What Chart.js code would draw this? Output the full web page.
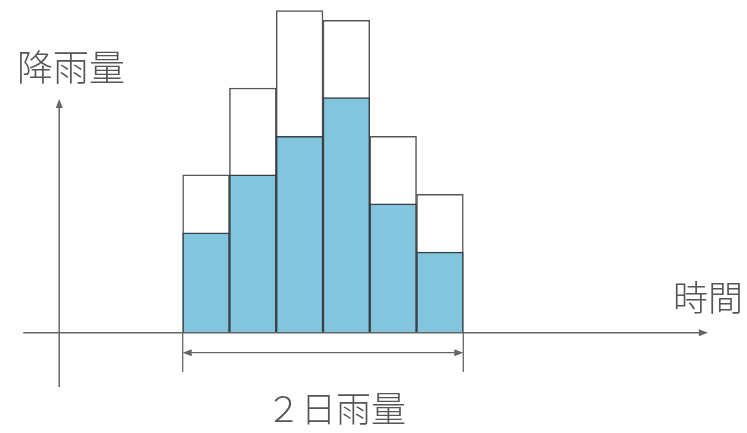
<!DOCTYPE html>
<html lang="ja">
<head>
<meta charset="UTF-8">
<title>2日雨量</title>
<script src="https://cdn.jsdelivr.net/npm/chart.js"></script>
<style>
  html, body { margin: 0; padding: 0; background: #fff; overflow: hidden; }
  #wrap { width: 747px; height: 433px; }
</style>
</head>
<body>
<div id="wrap"><canvas id="rainChart"></canvas></div>
<script>
// bar centres along the time axis
const periods = [1, 2, 3, 4, 5, 6];
// total rainfall per period (white outlined bars)
const totalRain = [49, 76, 100, 97, 61, 43];
// blue part of each period
const blueRain = [31, 49, 61, 73, 40, 25];

const yTitle = '降雨量';
const xTitle = '時間';
const spanTitle = '２日雨量';

const lineColor = '#666';
const textColor = '#555';
const font = '"Noto Sans CJK JP", "Noto Sans", sans-serif';

function arrowHead(ctx, x, y, dir) {
    // small filled triangle, dir = 'up' | 'right' | 'left'
    ctx.beginPath();
    if (dir === 'up') {
        ctx.moveTo(x, y); ctx.lineTo(x - 3.5, y + 9); ctx.lineTo(x + 3.5, y + 9);
    } else if (dir === 'right') {
        ctx.moveTo(x, y); ctx.lineTo(x - 9, y - 3.5); ctx.lineTo(x - 9, y + 3.5);
    } else {
        ctx.moveTo(x, y); ctx.lineTo(x + 9, y - 3.5); ctx.lineTo(x + 9, y + 3.5);
    }
    ctx.closePath();
    ctx.fill();
}

const sketchPlugin = {
    id: 'sketch',
    afterDatasetsDraw(chart) {
        const ctx = chart.ctx;
        const xs = chart.scales.x, ys = chart.scales.y;
        const y0 = ys.getPixelForValue(0);
        ctx.save();
        ctx.strokeStyle = lineColor;
        ctx.fillStyle = lineColor;
        ctx.lineWidth = 1.5;

        // horizontal axis
        const xa0 = xs.getPixelForValue(-2.91), xa1 = xs.getPixelForValue(11.73);
        ctx.beginPath(); ctx.moveTo(xa0, y0); ctx.lineTo(xa1 - 4, y0); ctx.stroke();
        arrowHead(ctx, xa1, y0, 'right');

        // vertical axis
        const yx = xs.getPixelForValue(-2.14);
        const yb = ys.getPixelForValue(-16.9), yt = ys.getPixelForValue(72.6);
        ctx.beginPath(); ctx.moveTo(yx, yb); ctx.lineTo(yx, yt + 4); ctx.stroke();
        arrowHead(ctx, yx, yt, 'up');

        // span of the two days under the bars
        const sx0 = xs.getPixelForValue(periods[0] - 0.5);
        const sx1 = xs.getPixelForValue(periods[periods.length - 1] + 0.5);
        const sy = ys.getPixelForValue(-6.2), se = ys.getPixelForValue(-12.2);
        ctx.lineWidth = 1.3;
        ctx.beginPath();
        ctx.moveTo(sx0, y0); ctx.lineTo(sx0, se);
        ctx.moveTo(sx1, y0); ctx.lineTo(sx1, se);
        ctx.moveTo(sx0 + 4, sy); ctx.lineTo(sx1 - 4, sy);
        ctx.stroke();
        arrowHead(ctx, sx0, sy, 'left');
        arrowHead(ctx, sx1, sy, 'right');

        // labels
        ctx.fillStyle = textColor;
        ctx.textBaseline = 'middle';
        ctx.textAlign = 'center';
        ctx.font = '300 36px ' + font;
        ctx.fillText(yTitle, 71, 67);
        ctx.font = '300 35px ' + font;
        ctx.fillText(xTitle, 708, 298);
        ctx.fillText(spanTitle, 336, 409);
        ctx.restore();
    }
};

new Chart(document.getElementById('rainChart'), {
    type: 'bar',
    data: {
        datasets: [{
            label: 'blue',
            data: periods.map((p, i) => ({ x: p, y: blueRain[i] })),
            backgroundColor: '#82c5dd',
            borderColor: '#363f46',
            borderWidth: 1.5,
            order: 0
        }, {
            label: 'total',
            data: periods.map((p, i) => ({ x: p, y: totalRain[i] })),
            backgroundColor: '#ffffff',
            borderColor: '#555',
            borderWidth: 1.5,
            order: 1
        }]
    },
    options: {
        responsive: true,
        maintainAspectRatio: false,
        animation: false,
        layout: { padding: 0 },
        datasets: {
            bar: { grouped: false, barPercentage: 1, categoryPercentage: 1 }
        },
        plugins: { legend: { display: false }, tooltip: { enabled: false } },
        scales: {
            x: { type: 'linear', min: -3.406, max: 12.566, offset: false, display: false },
            y: { min: -31.15, max: 103.32, display: false }
        }
    },
    plugins: [sketchPlugin]
});
</script>
</body>
</html>
